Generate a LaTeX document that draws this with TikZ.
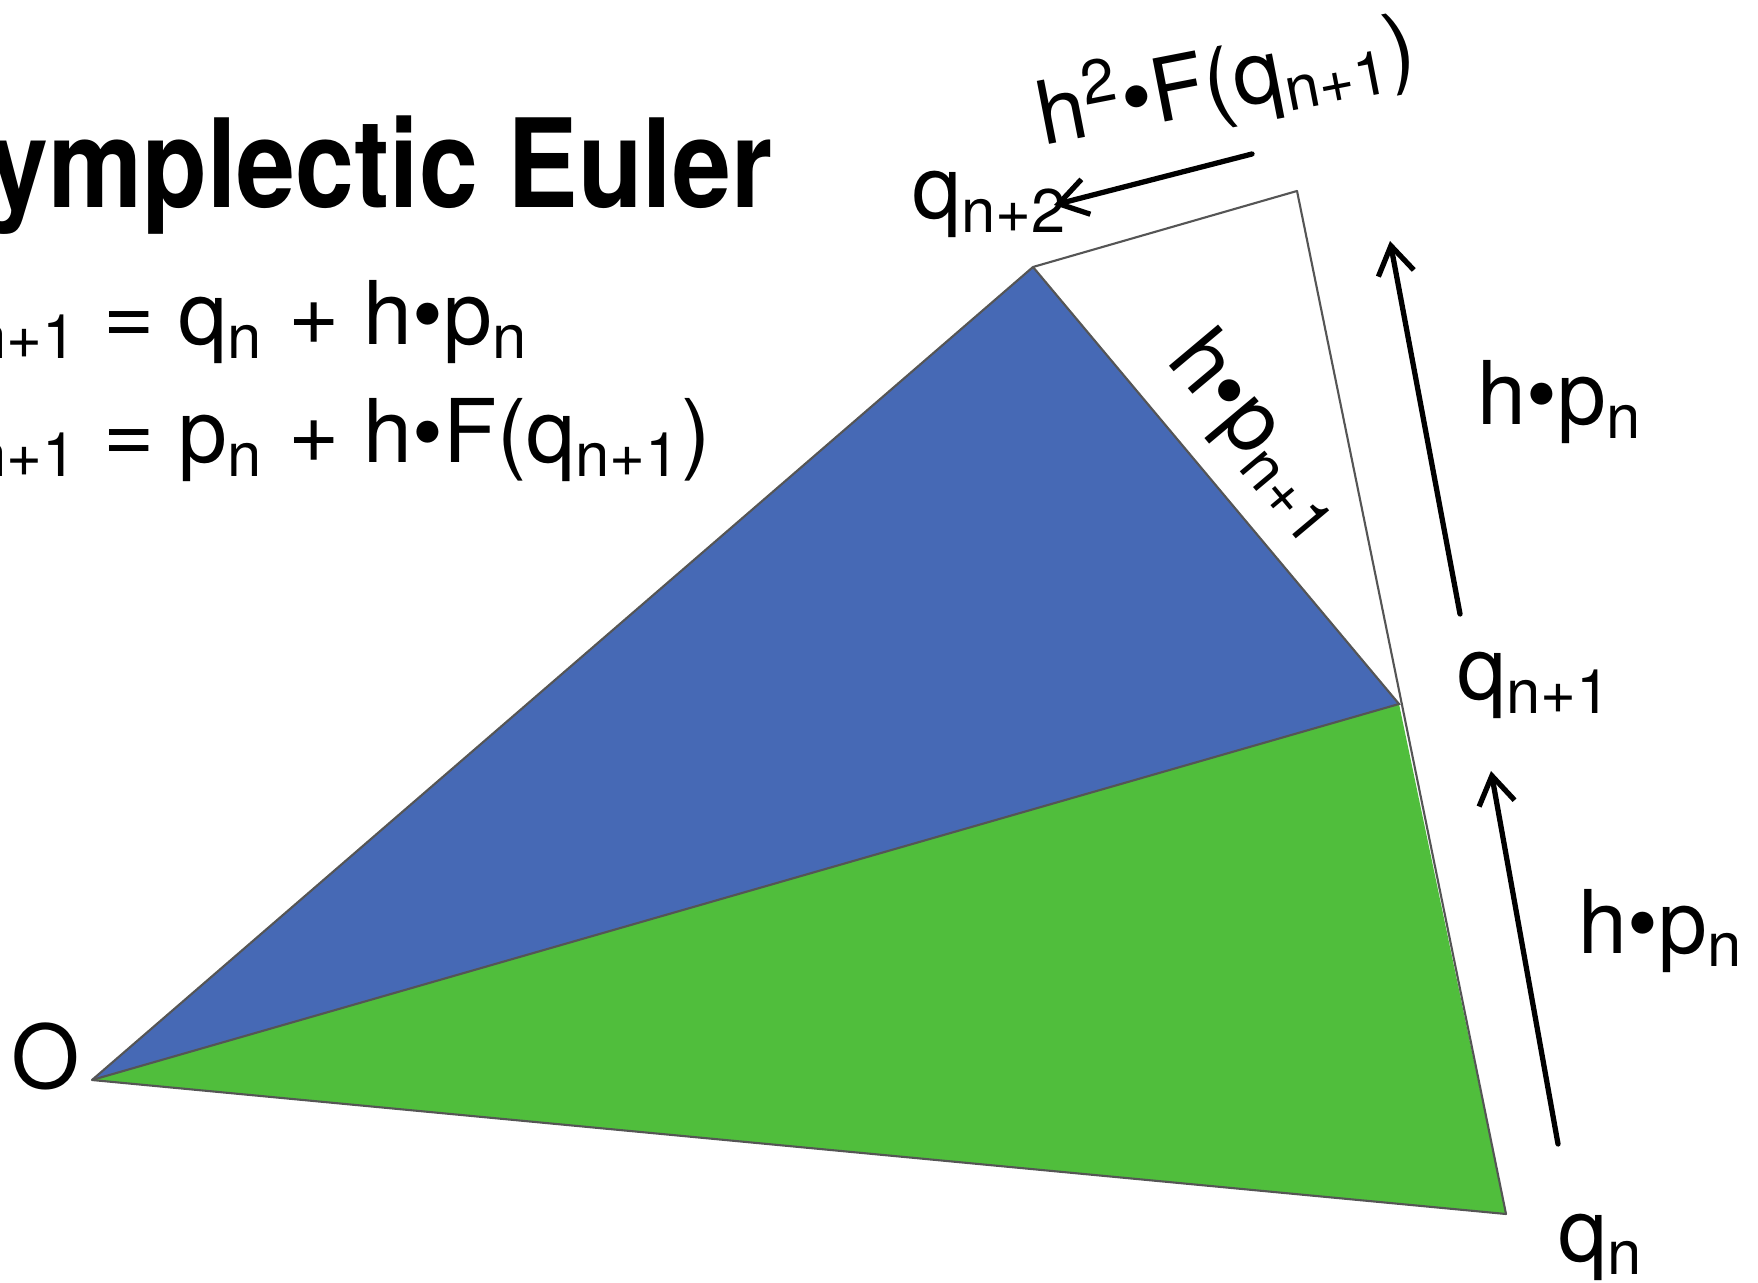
\documentclass[tikz,border=0pt]{standalone}
\usepackage{fontspec}
\setmainfont{TeX Gyre Heros}
\newfontfamily\titlefont[FakeStretch=0.86]{TeX Gyre Heros}
\usetikzlibrary{arrows.meta}
\definecolor{blue}{HTML}{4669B5}
\definecolor{green}{HTML}{50BE3C}
\definecolor{edge}{HTML}{555555}

\begin{document}
\begin{tikzpicture}[x=0.01cm,y=-0.01cm,>={Straight Barb[length=2.8mm,width=3.6mm]},
  lbl/.style={font=\fontsize{25}{30}\selectfont,inner sep=0pt},
  step arrow/.style={->,line width=1.5pt,line cap=round}]
\useasboundingbox (0,0) rectangle (1758,1283);
% corners of the two areas
\coordinate (o) at (92,1080);
\coordinate (q0) at (1506,1214);
\coordinate (q1) at (1399,704);
\coordinate (q2) at (1033,267);
\coordinate (tip) at (1297,191);
\fill[blue] (o)--(q2)--(q1)--cycle;
\fill[green] (o)--(q1)--(q0)--cycle;
\draw[edge,line width=0.6pt,line join=round] (o)--(q2)--(tip)--(q0)--cycle;
\draw[edge,line width=0.6pt] (q2)--(q1)--(o);
% title and scheme
\node[anchor=base west,inner sep=0pt,font=\titlefont\bfseries\fontsize{35}{40}\selectfont] (title) at (-82,208) {Symplectic Euler};
\node[lbl,anchor=base west] (eqq) at (-77,345) {q\textsubscript{n+1} = q\textsubscript{n} + h\textbullet p\textsubscript{n}};
\node[lbl,anchor=base west] (eqp) at (-77,463) {p\textsubscript{n+1} = p\textsubscript{n} + h\textbullet F(q\textsubscript{n+1})};
% point labels
\node[lbl,anchor=base west] (lo) at (11,1088) {O};
\node[lbl,anchor=base west] (lq0) at (1558,1261) {q\textsubscript{n}};
\node[lbl,anchor=base west] (lq1) at (1457,700) {q\textsubscript{n+1}};
\node[lbl,anchor=base west] (lq2) at (912,219) {q\textsubscript{n+2}};
% step labels
\node[lbl,anchor=base west] (hp1) at (1477,425) {h\textbullet p\textsubscript{n}};
\node[lbl,anchor=base west] (hp0) at (1578,953) {h\textbullet p\textsubscript{n}};
\node[lbl,anchor=base west,rotate=11] (force) at (1043,146) {h\textsuperscript{2}\textbullet F(q\textsubscript{n+1})};
\node[lbl,rotate=-50] (hpn) at (1258,437) {h\textbullet p\textsubscript{n+1}};
% arrows
\coordinate (fa) at (1252,154);
\coordinate (fb) at (1054,205);
\coordinate (ma) at (1460,614);
\coordinate (mb) at (1390,241);
\coordinate (la) at (1558,1144);
\coordinate (lb) at (1491,771);
\draw[step arrow] (fa)--(fb);
\draw[step arrow] (ma)--(mb);
\draw[step arrow] (la)--(lb);
\end{tikzpicture}
\end{document}
